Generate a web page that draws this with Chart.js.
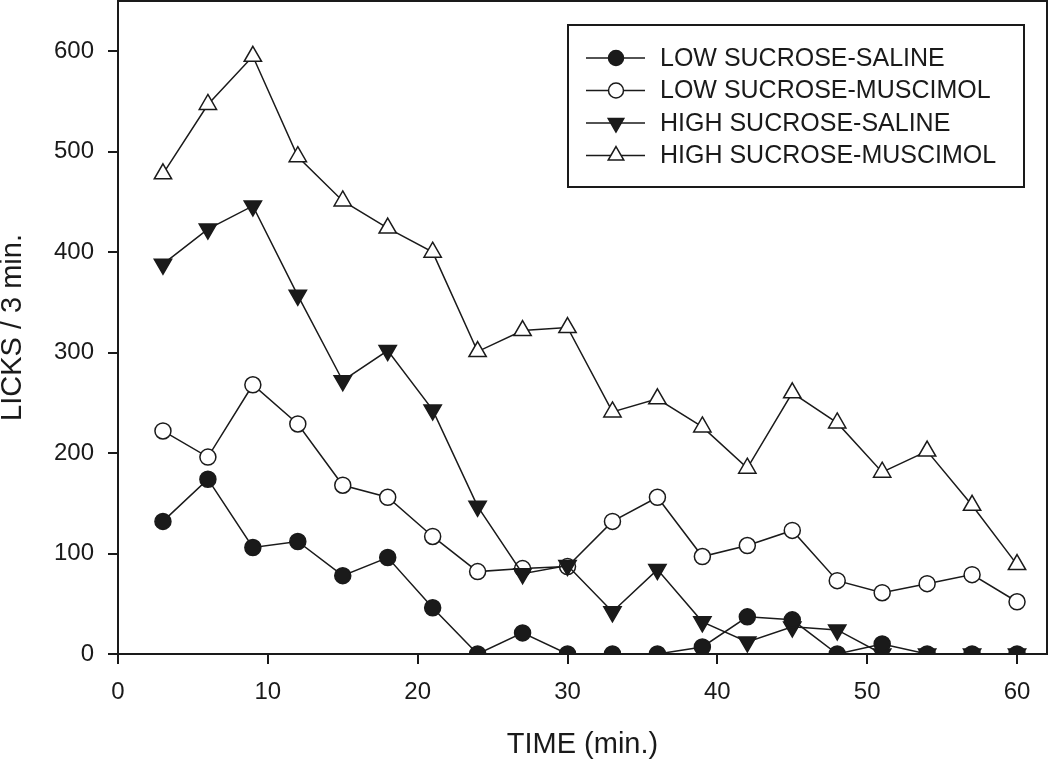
<!DOCTYPE html>
<html>
<head>
<meta charset="utf-8">
<script src="https://cdn.jsdelivr.net/npm/chart.js@4"></script>
<style>
  html, body { margin: 0; padding: 0; background: #fff; }
  canvas { display: block; }
</style>
</head>
<body>
<canvas id="licks-chart" width="1050" height="762"></canvas>
<script>
const time = [3, 6, 9, 12, 15, 18, 21, 24, 27, 30, 33, 36, 39, 42, 45, 48, 51, 54, 57, 60];
const lowSaline = [132, 174, 106, 112, 78, 96, 46, 0, 21, 0, 0, 0, 7, 37, 34, 0, 10, 0, 0, 0];
const lowMuscimol = [222, 196, 268, 229, 168, 156, 117, 82, 85, 87, 132, 156, 97, 108, 123, 73, 61, 70, 79, 52];
const highSaline = [388, 423, 446, 357, 272, 302, 243, 147, 80, 88, 42, 84, 32, 12, 27, 24, 0, 0, 0, 0];
const highMuscimol = [478, 547, 595, 495, 451, 424, 400, 301, 322, 325, 241, 254, 226, 185, 260, 230, 181, 202, 148, 89];
const xTicks = [0, 10, 20, 30, 40, 50, 60];
const yTicks = [0, 100, 200, 300, 400, 500, 600];

const ink = '#1a1a1a';
const font = "'Liberation Sans', Arial, sans-serif";

function points(vals) {
  return time.map((t, i) => ({ x: t, y: vals[i] }));
}

function series(label, vals, style, filled, order) {
  const tri = style !== 'circle';
  return {
    label,
    data: points(vals),
    order,
    borderColor: ink,
    borderWidth: 1.5,
    pointStyle: tri ? 'triangle' : 'circle',
    pointRotation: style === 'down' ? 180 : 0,
    pointRadius: tri ? 10 : 8,
    pointBorderWidth: 1.5,
    pointBorderColor: ink,
    pointBackgroundColor: filled ? ink : '#fff',
    backgroundColor: filled ? ink : '#fff',
    fill: false,
    tension: 0
  };
}

// frame round the plot and the boxed legend
const framePlugin = {
  id: 'frame',
  afterDraw(chart) {
    const { ctx, chartArea: a } = chart;
    ctx.save();
    ctx.strokeStyle = ink;
    ctx.lineWidth = 2;
    ctx.strokeRect(a.left, a.top, a.right - a.left, a.bottom - a.top);

    // legend
    ctx.strokeRect(568, 25, 456, 162);
    const rowY = [58, 90.5, 123, 155.5];
    ctx.font = '25px ' + font;
    ctx.textBaseline = 'middle';
    chart.data.datasets.forEach((ds, r) => {
      const y = rowY[r];
      ctx.strokeStyle = ink;
      ctx.lineWidth = 1.5;
      ctx.beginPath();
      ctx.moveTo(586, y);
      ctx.lineTo(645, y);
      ctx.stroke();
      ctx.fillStyle = ds.pointBackgroundColor;
      Chart.helpers.drawPoint(ctx, {
        pointStyle: ds.pointStyle,
        rotation: ds.pointRotation,
        radius: ds.pointStyle === 'triangle' ? 9 : 7.5,
        borderWidth: 1.5
      }, 616, y);
      ctx.fillStyle = ink;
      ctx.fillText(ds.label, 660, y + 1);
    });
    ctx.restore();
  }
};

new Chart(document.getElementById('licks-chart'), {
  type: 'line',
  data: {
    datasets: [
      series('LOW SUCROSE-SALINE', lowSaline, 'circle', true, 1),
      series('LOW SUCROSE-MUSCIMOL', lowMuscimol, 'circle', false, 4),
      series('HIGH SUCROSE-SALINE', highSaline, 'down', true, 2),
      series('HIGH SUCROSE-MUSCIMOL', highMuscimol, 'up', false, 3)
    ]
  },
  options: {
    responsive: false,
    animation: false,
    layout: { autoPadding: false, padding: { top: 1, right: 3, left: 0, bottom: 0 } },
    plugins: {
      legend: { display: false },
      tooltip: { enabled: false }
    },
    scales: {
      x: {
        type: 'linear',
        min: 0,
        max: 62,
        afterBuildTicks: s => { s.ticks = xTicks.map(v => ({ value: v })); },
        afterFit: s => { s.height = 108; s.paddingLeft = 0; s.paddingRight = 0; },
        grid: { display: true, drawOnChartArea: false, drawTicks: true, tickLength: 10, color: ink, lineWidth: 2 },
        border: { display: true, color: ink, width: 2 },
        ticks: { color: ink, padding: 14, maxRotation: 0, font: { family: font, size: 24 } },
        title: { display: true, text: 'TIME (min.)', color: ink, padding: 0, font: { family: font, size: 29 } }
      },
      y: {
        min: 0,
        max: 650,
        afterBuildTicks: s => { s.ticks = yTicks.map(v => ({ value: v })); },
        afterFit: s => { s.width = 118; s.paddingTop = 0; s.paddingBottom = 0; },
        grid: { display: true, drawOnChartArea: false, drawTicks: true, tickLength: 10, color: ink, lineWidth: 2 },
        border: { display: true, color: ink, width: 2 },
        ticks: { color: ink, padding: 14, font: { family: font, size: 24 } },
        title: { display: true, text: 'LICKS / 3 min.', color: ink, padding: { top: -4, bottom: 0 }, font: { family: font, size: 29 } }
      }
    }
  },
  plugins: [framePlugin]
});
</script>
</body>
</html>
